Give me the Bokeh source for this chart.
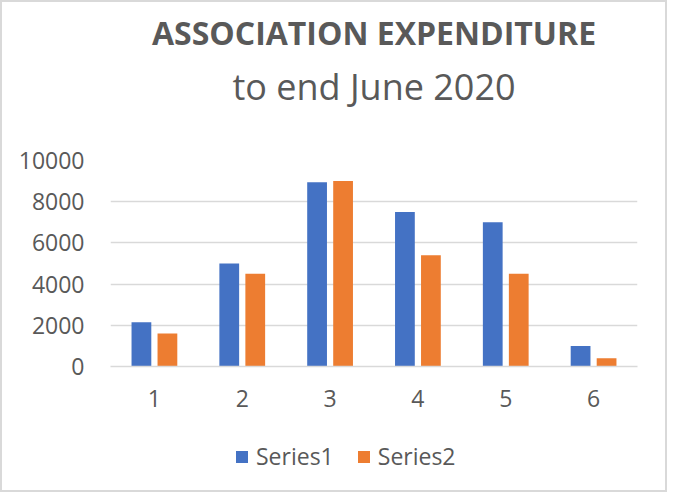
import numpy as np
from bokeh.plotting import figure
from bokeh.layouts import column
from bokeh.models import ColumnDataSource, FactorRange, Range1d, FixedTicker, Legend, LegendItem, Title
from bokeh.transform import dodge
from bokeh.embed import file_html
from bokeh.resources import INLINE

categories = ["1", "2", "3", "4", "5", "6"]
series1 = [2150, 5000, 8950, 7500, 7000, 1000]
series2 = [1600, 4500, 9000, 5400, 4500, 400]
series_names = ["Series1", "Series2"]
y_ticks = [0, 2000, 4000, 6000, 8000, 10000]
title_text = "ASSOCIATION EXPENDITURE"
subtitle_text = "to end June 2020"

FONT = "Open Sans"
TXT = "#595959"
GRID = "#d9d9d9"
COLORS = ["#4472C4", "#ED7D31"]

src = ColumnDataSource(dict(cat=categories, s1=series1, s2=series2))

p = figure(x_range=FactorRange(*categories), y_range=Range1d(0, 10000),
           width=663, height=428, output_backend="svg", toolbar_location=None,
           min_border_left=108, min_border_right=28, min_border_bottom=64, min_border_top=0,
           title=None)
p.outline_line_color = None
p.background_fill_color = "white"
p.border_fill_color = "white"

p.vbar(x=dodge("cat", -0.148, range=p.x_range), top="s1", width=0.225, source=src,
       fill_color=COLORS[0], line_color=None)
p.vbar(x=dodge("cat", 0.148, range=p.x_range), top="s2", width=0.225, source=src,
       fill_color=COLORS[1], line_color=None)

# spacer between subtitle and plot area
p.add_layout(Title(text=" ", text_font=FONT, text_font_size="2px", standoff=45), "above")
sub = Title(text=subtitle_text, align="center", text_font=FONT, text_font_size="36px",
            text_font_style="normal", text_color=TXT, offset=-8, standoff=0)
p.add_layout(sub, "above")
ttl = Title(text=title_text, align="center", text_font=FONT, text_font_size="32px",
            text_font_style="bold", text_color=TXT, offset=-8, standoff=12)
p.add_layout(ttl, "above")

p.xgrid.visible = False
p.ygrid.grid_line_color = GRID
p.ygrid.grid_line_width = 1.5
p.yaxis.ticker = FixedTicker(ticks=y_ticks)
for ax in (p.xaxis[0], p.yaxis[0]):
    ax.major_label_text_font = FONT
    ax.major_label_text_font_size = "23px"
    ax.major_label_text_color = TXT
    ax.major_tick_line_color = None
    ax.minor_tick_line_color = None
p.yaxis.axis_line_color = None
p.yaxis.major_label_standoff = 20
p.xaxis.axis_line_color = GRID
p.xaxis.axis_line_width = 1.5
p.xaxis.major_label_standoff = 17

# legend strip (second figure, no axes)
lf = figure(width=663, height=60, output_backend="svg", toolbar_location=None,
            x_range=Range1d(0, 1), y_range=Range1d(0, 1), min_border=0,
            x_axis_location=None, y_axis_location=None)
lf.outline_line_color = None
lf.grid.visible = False
lf.border_fill_color = "white"
dummy = [lf.vbar(x=np.array([np.nan]), top=np.array([np.nan]), width=0.1,
                 fill_color=c, line_color=None) for c in COLORS]
legend = Legend(items=[LegendItem(label=n, renderers=[r]) for n, r in zip(series_names, dummy)],
                orientation="horizontal", location=(124, 18),
                label_text_font=FONT, label_text_font_size="23px", label_text_color=TXT,
                glyph_width=15, glyph_height=15, label_standoff=7, spacing=22,
                border_line_color=None, background_fill_alpha=0, padding=0, margin=0)
lf.add_layout(legend, "center")

layout = column(p, lf, spacing=0, styles={"border": "2px solid #d9d9d9"})

open("out.html", "w").write(file_html(layout, INLINE))
